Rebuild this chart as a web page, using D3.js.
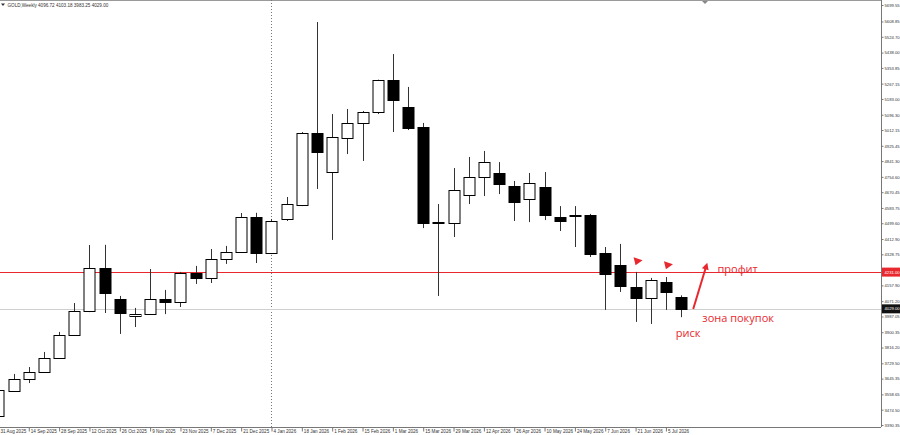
<!DOCTYPE html>
<html lang="ru">
<head>
<meta charset="UTF-8">
<title>GOLD Weekly</title>
<script src="https://cdnjs.cloudflare.com/ajax/libs/d3/7.8.5/d3.min.js"></script>
<style>
  html, body { margin: 0; padding: 0; background: #fff; }
  svg { display: block; }
</style>
</head>
<body>
<script>
// weekly bars, one per week
var weeks = ["31 Aug 2025","7 Sep 2025","14 Sep 2025","21 Sep 2025","28 Sep 2025","5 Oct 2025","12 Oct 2025",
  "19 Oct 2025","26 Oct 2025","2 Nov 2025","9 Nov 2025","16 Nov 2025","23 Nov 2025","30 Nov 2025","7 Dec 2025",
  "14 Dec 2025","21 Dec 2025","28 Dec 2025","4 Jan 2026","11 Jan 2026","18 Jan 2026","25 Jan 2026","1 Feb 2026",
  "8 Feb 2026","15 Feb 2026","22 Feb 2026","1 Mar 2026","8 Mar 2026","15 Mar 2026","22 Mar 2026","29 Mar 2026",
  "5 Apr 2026","12 Apr 2026","19 Apr 2026","26 Apr 2026","3 May 2026","10 May 2026","17 May 2026","24 May 2026",
  "31 May 2026","7 Jun 2026","14 Jun 2026","21 Jun 2026","28 Jun 2026","5 Jul 2026","12 Jul 2026"];

var opens  = [3440,3577,3643,3682,3759,3885,4017,4254,4083,3990,4001,4083,4066,4226,4199,4303,4342,4534,4336,4523,
  4600,4996,4781,4968,5051,5111,5287,5139,5029,4506,4501,4655,4754,4776,4704,4633,4699,4534,4545,4545,
  4336,4270,4149,4089,4177,4096.72];
var highs  = [3600,3671,3709,3792,3902,4061,4380,4381,4100,4034,4248,4133,4232,4265,4358,4375,4556,4557,4523,4644,
  5001,5606,5100,5128,5117,5289,5430,5249,5051,4605,4803,4864,4897,4836,4732,4776,4781,4594,4594,4551,
  4369,4386,4232,4199,4204,4103.18];
var lows   = [3418,3572,3621,3676,3757,3883,4011,4006,3891,3929,3999,4000,4039,4166,4171,4276,4336,4281,4330,4512,
  4594,4688,4408,4880,4842,5100,5001,5012,4473,4100,4424,4605,4649,4660,4512,4506,4517,4457,4369,4314,
  4023,4122,3957,3946,4023,3983.25];
var closes = [3583,3643,3682,3759,3885,4017,4254,4116,4006,4001,4083,4066,4226,4199,4303,4342,4534,4336,4512,4605,
  4996,4891,4974,5051,5111,5287,5177,5023,4501,4501,4682,4754,4836,4715,4616,4721,4545,4512,4540,4331,
  4221,4155,4089,4188,4122,4029.00];

var priceTicks = [5699.55,5608.85,5524.70,5438.00,5353.85,5267.15,5183.00,5096.30,5012.15,4925.45,4841.30,
  4754.60,4670.45,4583.75,4499.60,4412.90,4328.75,4242.05,4157.90,4071.20,3987.05,3900.35,3816.20,3729.50,
  3645.35,3558.65,3474.50,3390.35];
var dateTicks = weeks.filter(function(d, i){ return i % 2 === 0; });

var title = "GOLD,Weekly  4096.72 4103.18 3983.25 4029.00";
var profitLevel = 4231.00;
var lastClose = 4029.00;
var separatorWeek = "4 Jan 2026";

// annotations (week position as fractional bar index, price)
var markers = [{i: 42, p: 4290}, {i: 44, p: 4268}];
var arrow = {i0: 45.8, p0: 4028, i1: 46.65, p1: 4262};
var notes = [
  {text: "профит", i: 47.4, p: 4231},
  {text: "зона покупок", i: 46.4, p: 3962},
  {text: "риск", i: 44.65, p: 3880}
];

var data = weeks.map(function(w, i){
  return {week: w, o: opens[i], h: highs[i], l: lows[i], c: closes[i]};
});

var W = 900, H = 435, right = 881, bottom = 427;
var red = "#e8282e";
var small = "4.2px";

var svg = d3.select("body").append("svg")
  .attr("width", W).attr("height", H)
  .style("font-family", "'Liberation Sans', Arial, sans-serif");

var step = 15.17;
var x0 = 271.5 - 18 * step;
var x = d3.scalePoint().domain(weeks).range([x0, x0 + (weeks.length - 1) * step]);
var xi = d3.scaleLinear().domain([0, weeks.length - 1]).range([x0, x0 + (weeks.length - 1) * step]);
var y = d3.scaleLinear().domain([3390.35, 5699.55]).range([425, 5]);

// frame
svg.append("line").attr("x1", 0).attr("x2", right).attr("y1", 0.5).attr("y2", 0.5)
  .attr("stroke", "#9a9a9a");

// period separator
svg.append("line")
  .attr("x1", Math.round(x(separatorWeek)) + 0.5).attr("x2", Math.round(x(separatorWeek)) + 0.5)
  .attr("y1", 0).attr("y2", bottom)
  .attr("stroke", "#777").attr("stroke-dasharray", "1,2");

// bid line and level
svg.append("line").attr("x1", 0).attr("x2", right)
  .attr("y1", Math.round(y(lastClose)) + 0.5).attr("y2", Math.round(y(lastClose)) + 0.5)
  .attr("stroke", "#cfcfcf");
svg.append("line").attr("x1", 0).attr("x2", right)
  .attr("y1", Math.round(y(profitLevel)) + 0.5).attr("y2", Math.round(y(profitLevel)) + 0.5)
  .attr("stroke", red);

// candles
var g = svg.append("g");
var bw = 11;
g.selectAll("line.wick").data(data).enter().append("line")
  .attr("class", "wick")
  .attr("x1", function(d){ return Math.round(x(d.week)) + 0.5; })
  .attr("x2", function(d){ return Math.round(x(d.week)) + 0.5; })
  .attr("y1", function(d){ return y(d.h); })
  .attr("y2", function(d){ return y(d.l); })
  .attr("stroke", "#333");
g.selectAll("rect.body").data(data).enter().append("rect")
  .attr("class", "body")
  .attr("x", function(d){ return Math.round(x(d.week)) - bw / 2 + 0.5; })
  .attr("y", function(d){ return Math.round(y(Math.max(d.o, d.c))) + 0.5; })
  .attr("width", bw)
  .attr("height", function(d){ return Math.max(1, Math.round(Math.abs(y(d.o) - y(d.c)))); })
  .attr("fill", function(d){ return d.c >= d.o ? "#fff" : "#000"; })
  .attr("stroke", "#000");

// right price axis
var yAxis = d3.axisRight(y).tickValues(priceTicks).tickFormat(d3.format(".2f")).tickSize(2).tickPadding(1);
var ya = svg.append("g").attr("transform", "translate(" + (right + 0.5) + ",0)").call(yAxis);
ya.select(".domain").attr("d", "M0,0V" + bottom).attr("stroke", "#777");
ya.selectAll(".tick line").attr("stroke", "#777");
ya.selectAll("text").style("font-size", small).attr("fill", "#333");

// price labels on axis
function priceTag(p, fill){
  var t = svg.append("g").attr("transform", "translate(" + (right + 1) + "," + y(p) + ")");
  t.append("rect").attr("x", 0).attr("y", -4.5).attr("width", W - right).attr("height", 9).attr("fill", fill);
  t.append("text").attr("x", 2.5).attr("dy", "0.35em").text(d3.format(".2f")(p))
    .style("font-size", small).attr("fill", "#fff");
}
priceTag(profitLevel, red);
priceTag(lastClose, "#111");

// bottom date axis
var xAxis = d3.axisBottom(x).tickValues(dateTicks).tickSize(4).tickPadding(1);
var xa = svg.append("g").attr("transform", "translate(0," + (bottom + 0.5) + ")").call(xAxis);
xa.select(".domain").attr("d", "M0,0H" + right).attr("stroke", "#777");
xa.selectAll(".tick line").attr("stroke", "#777");
xa.selectAll("text").attr("text-anchor", "start").attr("x", 1.5).attr("y", 2.5)
  .style("font-size", "4.6px").attr("fill", "#333");

// title
svg.append("path").attr("d", "M1,3.5L5,3.5L3,6Z").attr("fill", "#333");
svg.append("text").attr("x", 7.5).attr("y", 6.5).text(title)
  .style("font-size", "4.6px").attr("fill", "#333");
// chart shift marker
svg.append("path").attr("d", "M702,1L708,1L705,4Z").attr("fill", "#888");

// red markers
svg.selectAll("path.mark").data(markers).enter().append("path")
  .attr("class", "mark")
  .attr("transform", function(d){ return "translate(" + xi(d.i) + "," + y(d.p) + ")"; })
  .attr("d", "M-2,-4L7,-1L0,4Z")
  .attr("fill", red);

// arrow
var ax0 = xi(arrow.i0), ay0 = y(arrow.p0), ax1 = xi(arrow.i1), ay1 = y(arrow.p1);
var ang = Math.atan2(ay1 - ay0, ax1 - ax0);
svg.append("line").attr("x1", ax0).attr("y1", ay0).attr("x2", ax1).attr("y2", ay1)
  .attr("stroke", red).attr("stroke-width", 2);
var hl = 7, hw = 3.5;
var tipX = ax1 + Math.cos(ang) * 4, tipY = ay1 + Math.sin(ang) * 4;
var bx = tipX - Math.cos(ang) * hl, by = tipY - Math.sin(ang) * hl;
svg.append("path")
  .attr("d", "M" + tipX + "," + tipY +
    "L" + (bx - Math.sin(ang) * hw) + "," + (by + Math.cos(ang) * hw) +
    "L" + (bx + Math.sin(ang) * hw) + "," + (by - Math.cos(ang) * hw) + "Z")
  .attr("fill", red);

// notes
svg.selectAll("text.note").data(notes).enter().append("text")
  .attr("class", "note")
  .attr("x", function(d){ return xi(d.i); })
  .attr("y", function(d){ return y(d.p); })
  .attr("dy", "0.1em")
  .text(function(d){ return d.text; })
  .style("font-family", "'Open Sans', sans-serif")
  .style("font-size", "11px")
  .attr("fill", red);
</script>
</body>
</html>
